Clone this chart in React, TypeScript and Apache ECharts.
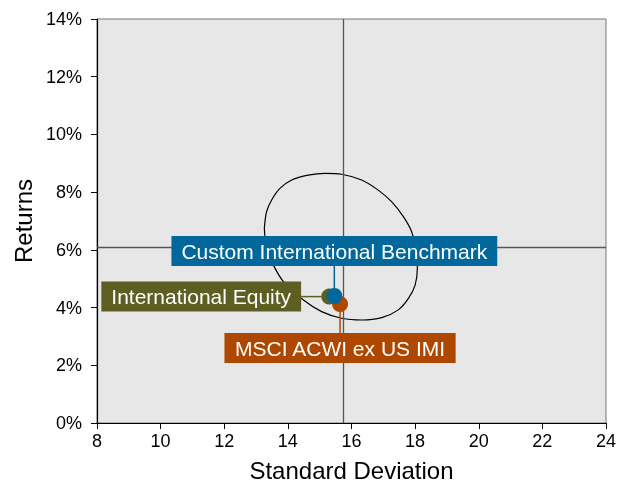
import React, { useEffect, useRef } from "react";
import * as echarts from "echarts";

const seriesNames = ["International Equity", "MSCI ACWI ex US IMI", "Custom International Benchmark"];
const stdDevs = [15.3, 15.64, 15.46];
const returnsPct = [4.38, 4.12, 4.4];
const seriesColors = ["#5E5E22", "#AE4800", "#02679A"];
const labelShifts = [
  [-128, 0],
  [0, 44],
  [0, -45],
];

const ellipseStdDev = [
  13.26, 13.33, 13.49, 13.75, 14.12, 14.64, 15.17, 15.69, 16.32, 16.84, 17.26, 17.63, 17.89,
  18.05, 18.07, 18.0, 17.79, 17.47, 16.95, 16.32, 15.69, 15.06, 14.49, 13.86, 13.54, 13.33, 13.26,
];
const ellipseReturns = [
  6.75, 7.32, 7.73, 8.13, 8.42, 8.59, 8.65, 8.62, 8.42, 8.07, 7.67, 7.15, 6.63,
  5.94, 5.36, 4.78, 4.32, 3.92, 3.65, 3.57, 3.63, 3.86, 4.26, 4.9, 5.48, 6.05, 6.75,
];

const crossStdDev = 15.73;
const crossReturn = 6.1;

const xMin = 8;
const xMax = 24;
const xStep = 2;
const yMin = 0;
const yMax = 14;
const yStep = 2;

const FONT = "Liberation Sans, Arial, sans-serif";

export default function App() {
  const ref = useRef<HTMLDivElement>(null);
  useEffect(() => {
    if (!ref.current) return;
    const chart = echarts.init(ref.current, undefined, { renderer: "svg" });
    const pointSeries = seriesNames.map((name, i) => ({
      name,
      type: "scatter",
      z: 5 + i,
      symbol: "circle",
      symbolSize: 16,
      itemStyle: { color: seriesColors[i], opacity: 1 },
      data: [[stdDevs[i], returnsPct[i]]],
      label: {
        show: true,
        position: "inside",
        formatter: name,
        color: "#ffffff",
        fontFamily: FONT,
        fontSize: 21,
        backgroundColor: seriesColors[i],
        padding: [5, 10, 4, 10],
      },
      labelLayout: { dx: labelShifts[i][0], dy: labelShifts[i][1] },
      labelLine: {
        show: true,
        lineStyle: { color: seriesColors[i], width: 1.5 },
      },
    }));
    chart.setOption({
      animation: false,
      textStyle: { fontFamily: FONT },
      grid: {
        left: 97,
        right: 24,
        top: 19,
        bottom: 75,
        show: true,
        backgroundColor: "#E7E7E7",
        borderColor: "#777777",
        borderWidth: 1,
      },
      xAxis: {
        type: "value",
        min: xMin,
        max: xMax,
        interval: xStep,
        name: "Standard Deviation",
        nameLocation: "middle",
        nameGap: 35,
        nameTextStyle: { fontSize: 24, color: "#000", fontFamily: FONT },
        axisLine: { show: true, lineStyle: { color: "#000", width: 1.2 } },
        axisTick: { show: true, length: 6, lineStyle: { color: "#000" } },
        axisLabel: { fontSize: 18, color: "#000", margin: 9, fontFamily: FONT },
        splitLine: { show: false },
      },
      yAxis: {
        type: "value",
        min: yMin,
        max: yMax,
        interval: yStep,
        name: "Returns",
        nameLocation: "middle",
        nameGap: 61,
        nameTextStyle: { fontSize: 24, color: "#000", fontFamily: FONT },
        axisLine: { show: true, lineStyle: { color: "#000", width: 1.2 } },
        axisTick: { show: true, length: 6, lineStyle: { color: "#000" } },
        axisLabel: { fontSize: 18, color: "#000", margin: 15, formatter: "{value}%", fontFamily: FONT },
        splitLine: { show: false },
      },
      series: [
        {
          name: "ellipse",
          type: "line",
          z: 3,
          smooth: 0.3,
          symbol: "none",
          silent: true,
          lineStyle: { color: "#000", width: 1.2 },
          data: ellipseStdDev.map((x, i) => [x, ellipseReturns[i]]),
          markLine: {
            silent: true,
            symbol: "none",
            label: { show: false },
            lineStyle: { color: "#555555", type: "solid", width: 1.3 },
            data: [{ xAxis: crossStdDev }, { yAxis: crossReturn }],
          },
        },
        ...pointSeries,
      ],
    });
    return () => chart.dispose();
  }, []);
  return <div ref={ref} style={{ position: "fixed", left: 0, top: 0, width: 630, height: 498 }} />;
}
